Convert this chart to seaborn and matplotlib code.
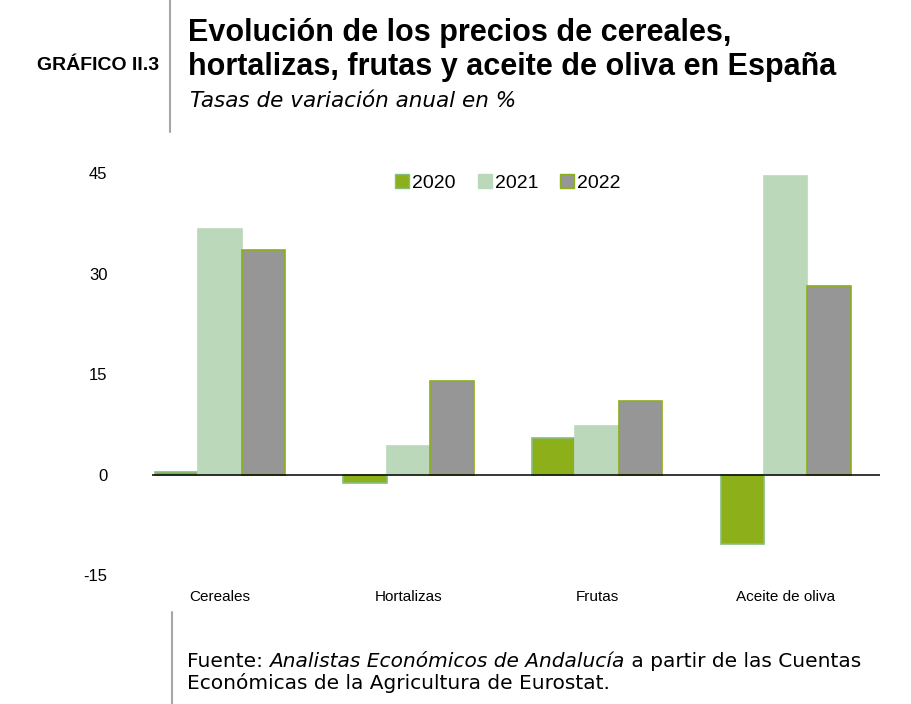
import pandas as pd
import seaborn as sns
import matplotlib.pyplot as plt
from matplotlib.lines import Line2D

categorias = ['Cereales', 'Hortalizas', 'Frutas', 'Aceite de oliva']
anios = ['2020', '2021', '2022']
v2020 = [0.4, -1.3, 5.5, -10.4]
v2021 = [36.7, 4.3, 7.3, 44.6]
v2022 = [33.6, 14.0, 11.0, 28.1]
yticks = [-15, 0, 15, 30, 45]

colores = {'2020': '#8DAF1A', '2021': '#BBD8BA', '2022': '#969696'}
bordes = {'2020': '#86BE7E', '2021': '#BBD8BA', '2022': '#8DAF1A'}

df = pd.DataFrame({
    'categoria': categorias * 3,
    'anio': [a for a in anios for _ in categorias],
    'valor': v2020 + v2021 + v2022,
})

sns.set_style('white')
plt.rcParams['font.family'] = ['Liberation Sans', 'DejaVu Sans']
plt.rcParams['text.color'] = 'black'
plt.rcParams['xtick.color'] = 'black'
plt.rcParams['ytick.color'] = 'black'

fig = plt.figure(figsize=(9.12, 7.04), dpi=100)
ax = fig.add_axes([152 / 912, 0.183, 728 / 912, 0.571])

sns.barplot(data=df, x='categoria', y='valor', hue='anio', palette=colores,
            width=0.69, saturation=1, ax=ax, legend=False)

# bordes de cada serie
for cont, a in zip(ax.containers, anios):
    for bar in cont:
        bar.set_edgecolor(bordes[a])
        bar.set_linewidth(1.2)

ax.axhline(0, color='black', lw=1.1, zorder=5)
ax.set_xlim(-0.36, 3.5)
ax.set_ylim(-15, 45)
ax.set_yticks(yticks)
ax.set_yticklabels([str(t) for t in yticks], fontsize=12)
ax.tick_params(axis='y', length=0, pad=32)
ax.tick_params(axis='x', length=0, labelsize=11, pad=11)
ax.set_xlabel('')
ax.set_ylabel('')
for s in ax.spines.values():
    s.set_visible(False)

handles = [Line2D([0], [0], marker='s', linestyle='', markersize=10,
                  markerfacecolor=colores[a], markeredgecolor=bordes[a])
           for a in anios]
ax.legend(handles, anios, loc='upper center', bbox_to_anchor=(0.487, 1.04),
          ncol=3, frameon=False, fontsize=14, handletextpad=0.0,
          columnspacing=1.0, handlelength=1.0)

# cabecera
fig.add_artist(Line2D([170 / 912, 170 / 912], [1, 1 - 132 / 704],
                      color='#A6A6A6', lw=1.5))
fig.text(37 / 912, 1 - 66 / 704, 'GRÁFICO II.3', fontsize=14,
         fontweight='bold', va='center', ha='left')
fig.text(188 / 912, 1 - 41 / 704, 'Evolución de los precios de cereales,',
         fontsize=22, fontweight='bold', va='baseline', ha='left')
fig.text(188 / 912, 1 - 75 / 704,
         'hortalizas, frutas y aceite de oliva en España',
         fontsize=22, fontweight='bold', va='baseline', ha='left')
fig.text(190 / 912, 1 - 107 / 704, 'Tasas de variación anual en %',
         fontsize=15.5, style='italic', va='baseline', ha='left',
         family='DejaVu Sans')

# pie: trozos colocados uno tras otro
fig.add_artist(Line2D([172 / 912, 172 / 912], [1 - 612 / 704, 0],
                      color='#A6A6A6', lw=1.5))
pie_size = 14.5
renderer = fig.canvas.get_renderer()
x = 187 / 912
for trozo, estilo in [('Fuente: ', 'normal'),
                      ('Analistas Económicos de Andalucía', 'italic'),
                      (' a partir de las Cuentas', 'normal')]:
    t = fig.text(x, 1 - 667 / 704, trozo, fontsize=pie_size, style=estilo,
                 va='baseline', ha='left', family='DejaVu Sans')
    bb = t.get_window_extent(renderer=renderer)
    x = bb.x1 / fig.bbox.width
fig.text(187 / 912, 1 - 689 / 704,
         'Económicas de la Agricultura de Eurostat.', fontsize=pie_size,
         va='baseline', ha='left', family='DejaVu Sans')

fig.savefig('out.png', dpi=100)
